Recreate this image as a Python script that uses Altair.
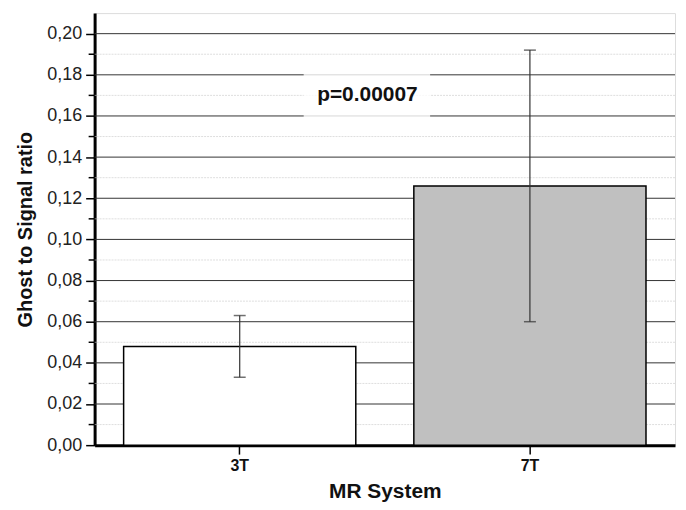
import altair as alt
import pandas as pd

systems = ["3T", "7T"]
means = [0.048, 0.126]
err_low = [0.033, 0.060]
err_high = [0.063, 0.192]
fills = ["#ffffff", "#c0c0c0"]
major_ticks = [0.00, 0.02, 0.04, 0.06, 0.08, 0.10, 0.12, 0.14, 0.16, 0.18, 0.20]
minor_ticks = [0.01, 0.03, 0.05, 0.07, 0.09, 0.11, 0.13, 0.15, 0.17, 0.19]
ann_text = ["p=0.00007"]
ann_y = [0.170]
ann_box_lo = [0.1595]
ann_box_hi = [0.1805]

FONT = "Liberation Sans"
W, H = 583, 434

bars_df = pd.DataFrame({"system": systems, "mean": means, "lo": err_low,
                        "hi": err_high, "fill": fills})
major_df = pd.DataFrame({"v": major_ticks[1:]})
minor_df = pd.DataFrame({"v": minor_ticks})
ann_df = pd.DataFrame({"t": ann_text, "y": ann_y, "y0": ann_box_lo, "y1": ann_box_hi})

yscale = alt.Scale(domain=[0, 0.21], nice=False, zero=True)
xscale = alt.Scale(domain=systems, paddingInner=0.2, paddingOuter=0.1)

xaxis = alt.Axis(title="MR System", labelAngle=0, domainWidth=3,
                 domainColor="#000000", tickColor="#000000",
                 tickSize=9, tickWidth=1.5, labelFont=FONT,
                 labelFontWeight="bold", labelFontSize=16,
                 labelColor="#111111", labelPadding=3,
                 titleFont=FONT, titleFontWeight="bold",
                 titleFontSize=21, titleColor="#111111",
                 titlePadding=8, grid=False)
yaxis = alt.Axis(title="Ghost to Signal ratio", values=major_ticks,
                 labelExpr="replace(format(datum.value, '.2f'), '.', ',')",
                 domainWidth=3, domainColor="#000000",
                 tickColor="#000000", tickSize=9, tickWidth=1.5,
                 labelFont=FONT, labelFontSize=18,
                 labelColor="#222222", labelPadding=4,
                 titleFont=FONT, titleFontWeight="bold",
                 titleFontSize=20, titleColor="#111111",
                 titlePadding=11, grid=False)

def Y(field):
    return alt.Y(field, scale=yscale, axis=yaxis)

def X():
    return alt.X("system:N", scale=xscale, sort=systems, axis=xaxis)

minor_grid = alt.Chart(minor_df).mark_rule(
    color="#dedede", strokeWidth=1, strokeDash=[2, 1]
).encode(y=Y("v:Q"))

major_grid = alt.Chart(major_df).mark_rule(
    color="#333333", strokeWidth=1
).encode(y=Y("v:Q"))

minor_axis_ticks = alt.Chart(minor_df).mark_rule(
    color="#000000", strokeWidth=1.5
).encode(y=Y("v:Q"), x=alt.value(-6), x2=alt.value(0))

bars = alt.Chart(bars_df).mark_bar(
    stroke="#000000", strokeWidth=1.5
).encode(
    x=X(), y=Y("mean:Q"),
    fill=alt.Fill("fill:N", scale=None),
)

err_rule = alt.Chart(bars_df).mark_rule(color="#333333", strokeWidth=1.2).encode(
    x=X(), y=Y("lo:Q"), y2="hi:Q",
)
cap_lo = alt.Chart(bars_df).mark_tick(color="#333333", thickness=1.5, size=12).encode(
    x=X(), y=Y("lo:Q"),
)
cap_hi = alt.Chart(bars_df).mark_tick(color="#333333", thickness=1.5, size=12).encode(
    x=X(), y=Y("hi:Q"),
)

ann_box = alt.Chart(ann_df).mark_rect(fill="#ffffff", opacity=0.8).encode(
    x=alt.value(210), x2=alt.value(337),
    y=Y("y0:Q"), y2="y1:Q",
)
ann_label = alt.Chart(ann_df).mark_text(
    font=FONT, fontWeight="bold", fontSize=21, color="#111111", align="center",
    baseline="middle"
).encode(x=alt.value(274), y=Y("y:Q"), text="t:N")

chart = alt.layer(
    minor_grid, major_grid, bars, err_rule, cap_lo, cap_hi,
    ann_box, ann_label, minor_axis_ticks
).properties(
    width=W, height=H,
    padding={"left": 7, "top": 4, "right": 2, "bottom": 2},
).configure_view(stroke=None).configure(background="#ffffff")

chart.save("out.html", embed_options={"renderer": "svg", "actions": False})
